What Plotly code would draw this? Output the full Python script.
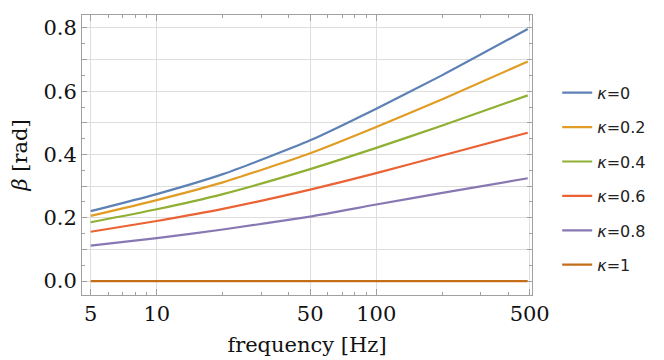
import plotly.graph_objects as go

freq = [5, 10, 20, 50, 100, 200, 490]
kappa_labels = ["0", "0.2", "0.4", "0.6", "0.8", "1"]
beta_k0 = [0.221, 0.275, 0.338, 0.445, 0.545, 0.651, 0.797]
beta_k02 = [0.206, 0.256, 0.312, 0.404, 0.487, 0.575, 0.694]
beta_k04 = [0.186, 0.227, 0.275, 0.354, 0.421, 0.492, 0.587]
beta_k06 = [0.156, 0.190, 0.228, 0.289, 0.341, 0.397, 0.469]
beta_k08 = [0.112, 0.136, 0.163, 0.204, 0.242, 0.279, 0.325]
beta_k1 = [0, 0, 0, 0, 0, 0, 0]

x_major = [5, 10, 50, 100, 500]
x_minor = [6, 7, 8, 9, 20, 30, 40, 60, 70, 80, 90, 200, 300, 400]
y_major = [0.0, 0.1, 0.2, 0.3, 0.4, 0.5, 0.6, 0.7, 0.8]
y_labels = ["0.0", "", "0.2", "", "0.4", "", "0.6", "", "0.8"]
y_minor = [0.05, 0.15, 0.25, 0.35, 0.45, 0.55, 0.65, 0.75]

series = [beta_k0, beta_k02, beta_k04, beta_k06, beta_k08, beta_k1]
colors = ["#5E81B5", "#E19C24", "#8FB032", "#EB6235", "#8778B3", "#C56E1A"]

fig = go.Figure()
for i, (lab, ys, c) in enumerate(zip(kappa_labels, series, colors)):
    fig.add_trace(go.Scatter(
        x=freq, y=ys, mode="lines", name="<i>κ</i>=" + lab,
        legendgroup=str(i),
        line=dict(color=c, width=2.2, shape="spline", smoothing=0.6),
    ))

frame = "#a0a0a0"
grid = "#dedede"
serif = "DejaVu Serif"

fig.update_layout(
    width=664, height=360,
    margin=dict(l=74, r=140, t=7, b=73),
    plot_bgcolor="white", paper_bgcolor="white",
    showlegend=True,
    legend=dict(
        x=1.056, xanchor="left", y=0.415, yanchor="middle",
        font=dict(family="DejaVu Sans", size=16, color="#222"),
        tracegroupgap=10.6, bgcolor="rgba(0,0,0,0)",
    ),
)
fig.update_xaxes(
    type="log", range=[0.6594, 2.7095],
    tickmode="array", tickvals=x_major, ticktext=[str(v) for v in x_major],
    ticks="inside", ticklen=6, tickcolor=frame, tickwidth=1,
    showline=True, linecolor=frame, linewidth=1, mirror="ticks",
    showgrid=True, gridcolor=grid, gridwidth=1, zeroline=False,
    tickfont=dict(family=serif, size=21, color="#111"),
    minor=dict(tickmode="array", tickvals=x_minor, ticks="inside", ticklen=3,
               tickcolor=frame, showgrid=False),
    title=dict(text="frequency [Hz]", font=dict(family=serif, size=21, color="#111"), standoff=12),
)
fig.update_yaxes(
    range=[-0.044, 0.841],
    tickmode="array", tickvals=y_major, ticktext=y_labels,
    ticks="inside", ticklen=5, tickcolor=frame, tickwidth=1,
    showline=True, linecolor=frame, linewidth=1, mirror="ticks",
    showgrid=True, gridcolor=grid, gridwidth=1, zeroline=False,
    tickfont=dict(family=serif, size=21, color="#111"),
    minor=dict(tickmode="array", tickvals=y_minor, ticks="inside", ticklen=3,
               tickcolor=frame, showgrid=False),
    title=dict(text="<i>β</i> [rad]", font=dict(family=serif, size=21, color="#111"), standoff=13),
)

fig.write_html("out.html")
